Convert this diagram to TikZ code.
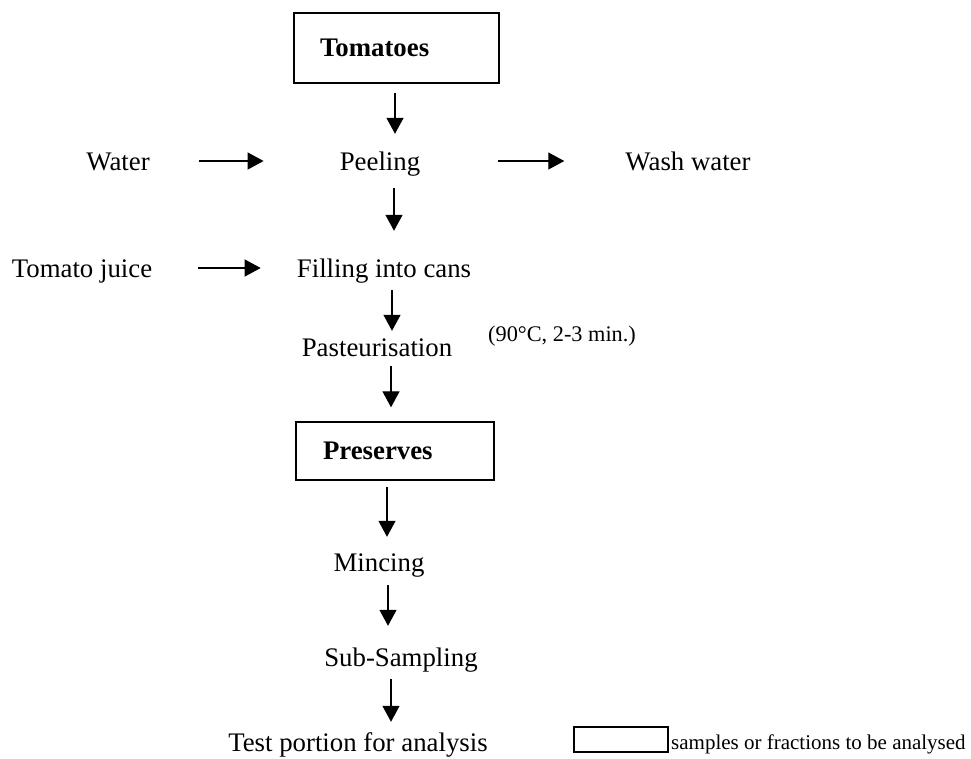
\documentclass[tikz,border=0pt]{standalone}
\usepackage{fontspec}
\setmainfont{Liberation Serif}
\usetikzlibrary{arrows.meta}
\begin{document}
\begin{tikzpicture}[x=1pt,y=-1pt,
  txt/.style={inner sep=0pt, anchor=base, text height=18pt, text depth=6pt,
    font=\fontsize{26.8}{32}\selectfont},
  keybox/.style={draw, line width=1.4pt, inner ysep=0pt, align=left,
    font=\fontsize{26.8}{32}\selectfont\bfseries},
  flow/.style={-{Triangle[length=16pt,width=17pt]}, line width=1.3pt},
  note/.style={inner sep=0pt, anchor=base west, font=\fontsize{22.3}{26}\selectfont}]
\useasboundingbox (0,0) rectangle (971,758);

% process boxes (samples to be analysed)
\node[keybox, inner xsep=26pt, text width=153pt, minimum height=70pt] (tom) at (396.5,48) {Tomatoes};
\node[keybox, inner xsep=27pt, text width=144pt, minimum height=58pt] (pres) at (395,451) {Preserves};

% process steps and streams
\node[txt] (water) at (118,170) {Water};
\node[txt] (peel)  at (380,170) {Peeling};
\node[txt] (wash)  at (688,170) {Wash water};
\node[txt] (juice) at (82,277)  {Tomato juice};
\node[txt] (fill)  at (384,277) {Filling into cans};
\node[txt] (past)  at (377,356) {Pasteurisation};
\node[note] (cond) at (488,341) {(90°C, 2-3 min.)};
\node[txt] (minc)  at (379,571) {Mincing};
\node[txt] (sub)   at (401,666) {Sub-Sampling};
\node[txt] (test)  at (358,751) {Test portion for analysis};

% main line
\draw[flow, shorten <=9pt,  shorten >=18pt] (tom.south -| 395,0)  -- (peel.north -| 395,0);
\draw[flow, shorten <=12pt, shorten >=28pt] (peel.south -| 394,0) -- (fill.north -| 394,0);
\draw[flow, shorten <=7pt,  shorten >=7pt]  (fill.south -| 392,0) -- (past.north -| 392,0);
\draw[flow, shorten <=4pt,  shorten >=14pt] (past.south -| 391,0) -- (pres.north -| 391,0);
\draw[flow, shorten <=6pt,  shorten >=16pt] (pres.south -| 387,0) -- (minc.north -| 387,0);
\draw[flow, shorten <=8pt,  shorten >=22pt] (minc.south -| 388,0) -- (sub.north -| 388,0);
\draw[flow, shorten <=7pt,  shorten >=11pt] (sub.south -| 391,0)  -- (test.north -| 391,0);

% side streams
\draw[flow, shorten <=49pt, shorten >=76pt] (water.east |- 0,161) -- (peel.west |- 0,161);
\draw[flow, shorten <=78pt, shorten >=61pt] (peel.east |- 0,161)  -- (wash.west |- 0,161);
\draw[flow, shorten <=46pt, shorten >=36pt] (juice.east |- 0,268) -- (fill.west |- 0,268);

% legend
\node[draw, line width=1.4pt, minimum width=94pt, minimum height=25pt, inner sep=0pt] (key) at (621,739.5) {};
\node[inner sep=0pt, anchor=base west, font=\fontsize{21}{25}\selectfont] (keytxt) at (671,749) {samples or fractions to be analysed};
\end{tikzpicture}
\end{document}
